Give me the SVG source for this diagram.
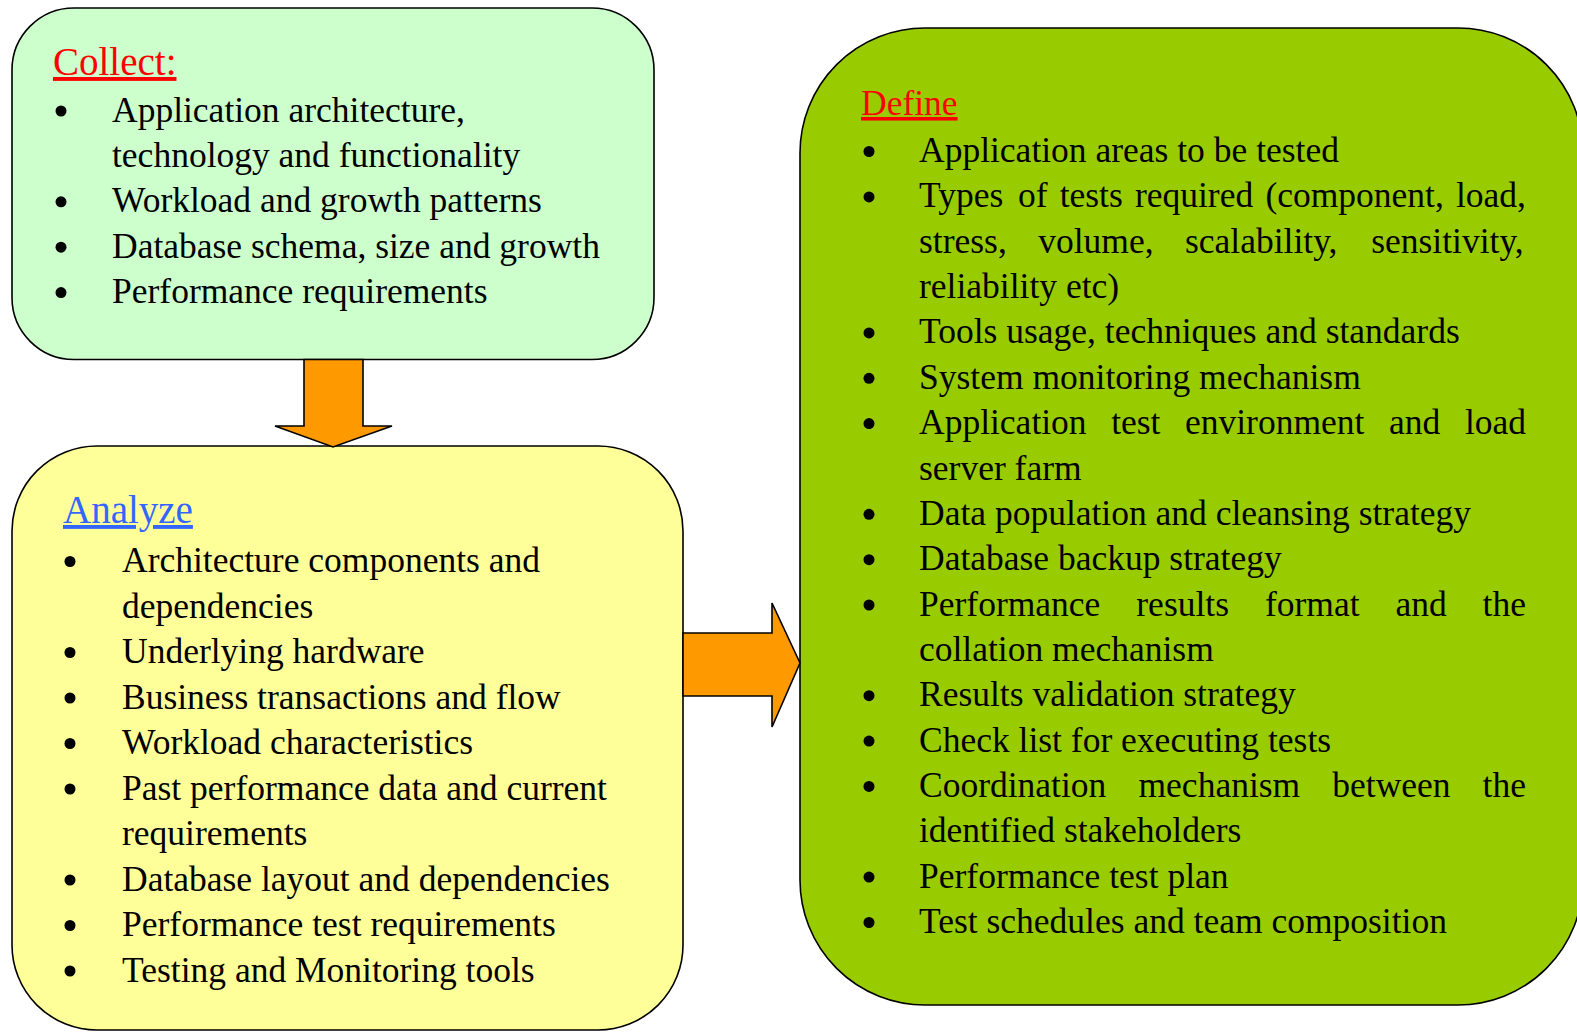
<svg xmlns="http://www.w3.org/2000/svg" width="1577" height="1032" viewBox="0 0 1577 1032">
  <style>
    .box { stroke: #000; stroke-width: 1.6; }
    .arrow { fill: #FF9900; stroke: #000; stroke-width: 1.6; stroke-linejoin: miter; }
    text { font-family: "Liberation Serif", "Times New Roman", serif; fill: #000; }
    .body { font-size: 35.5px; }
    .head { text-decoration: underline; }
    .bullet { fill: #000; }
  </style>
  <rect width="1577" height="1032" fill="#FFFFFF"/>

  <!-- Collect -->
  <g id="collect">
    <rect class="box" x="12" y="8" width="642" height="351.5" rx="62" ry="62" fill="#CCFFCC"/>
    <text class="head" x="53" y="75" font-size="39" style="fill:#FF0000">Collect:</text>
    <g class="bullet">
      <circle cx="61" cy="111" r="5.5"/>
      <circle cx="61" cy="201.8" r="5.5"/>
      <circle cx="61" cy="247.2" r="5.5"/>
      <circle cx="61" cy="292.6" r="5.5"/>
    </g>
    <text class="body" x="112">
      <tspan x="112" y="121.5">Application architecture,</tspan>
      <tspan x="112" y="166.9">technology and functionality</tspan>
      <tspan x="112" y="212.3">Workload and growth patterns</tspan>
      <tspan x="112" y="257.7">Database schema, size and growth</tspan>
      <tspan x="112" y="303.1">Performance requirements</tspan>
    </text>
  </g>

  <!-- Analyze -->
  <g id="analyze">
    <rect class="box" x="12" y="446" width="671" height="584" rx="85" ry="85" fill="#FFFF99"/>
    <text class="head" x="63" y="523" font-size="39" style="fill:#3366FF">Analyze</text>
    <g class="bullet">
      <circle cx="70" cy="561.5" r="5.5"/>
      <circle cx="70" cy="652.5" r="5.5"/>
      <circle cx="70" cy="698" r="5.5"/>
      <circle cx="70" cy="743.5" r="5.5"/>
      <circle cx="70" cy="789" r="5.5"/>
      <circle cx="70" cy="880" r="5.5"/>
      <circle cx="70" cy="925.5" r="5.5"/>
      <circle cx="70" cy="971" r="5.5"/>
    </g>
    <text class="body">
      <tspan x="122" y="572">Architecture components and</tspan>
      <tspan x="122" y="617.5">dependencies</tspan>
      <tspan x="122" y="663">Underlying hardware</tspan>
      <tspan x="122" y="708.5">Business transactions and flow</tspan>
      <tspan x="122" y="754">Workload characteristics</tspan>
      <tspan x="122" y="799.5">Past performance data and current</tspan>
      <tspan x="122" y="845">requirements</tspan>
      <tspan x="122" y="890.5">Database layout and dependencies</tspan>
      <tspan x="122" y="936">Performance test requirements</tspan>
      <tspan x="122" y="981.5">Testing and Monitoring tools</tspan>
    </text>
  </g>

  <!-- Define -->
  <g id="define">
    <rect class="box" x="800" y="28" width="783" height="977" rx="125" ry="125" fill="#99CC00"/>
    <text class="head" x="861" y="115" font-size="35.5" style="fill:#FF0000">Define</text>
    <g class="bullet">
      <circle cx="869" cy="151.5" r="5.5"/>
      <circle cx="869" cy="196.9" r="5.5"/>
      <circle cx="869" cy="332.9" r="5.5"/>
      <circle cx="869" cy="378.3" r="5.5"/>
      <circle cx="869" cy="423.6" r="5.5"/>
      <circle cx="869" cy="514.3" r="5.5"/>
      <circle cx="869" cy="559.7" r="5.5"/>
      <circle cx="869" cy="605" r="5.5"/>
      <circle cx="869" cy="695.7" r="5.5"/>
      <circle cx="869" cy="741.1" r="5.5"/>
      <circle cx="869" cy="786.4" r="5.5"/>
      <circle cx="869" cy="877.1" r="5.5"/>
      <circle cx="869" cy="922.5" r="5.5"/>
    </g>
    <text class="body">
      <tspan x="919" y="162">Application areas to be tested</tspan>
      <!-- justified lines: one tspan per word -->
      <tspan x="919" y="207.4">Types</tspan><tspan x="1017.9" y="207.4">of</tspan><tspan x="1059.7" y="207.4">tests</tspan><tspan x="1134.9" y="207.4">required</tspan><tspan x="1265.4" y="207.4">(component,</tspan><tspan x="1456" y="207.4">load,</tspan>
      <tspan x="919" y="252.7">stress,</tspan><tspan x="1038.2" y="252.7">volume,</tspan><tspan x="1185" y="252.7">scalability,</tspan><tspan x="1371.2" y="252.7">sensitivity,</tspan>
      <tspan x="919" y="298.1">reliability etc)</tspan>
      <tspan x="919" y="343.4">Tools usage, techniques and standards</tspan>
      <tspan x="919" y="388.8">System monitoring mechanism</tspan>
      <tspan x="919" y="434.1">Application</tspan><tspan x="1111.2" y="434.1">test</tspan><tspan x="1185" y="434.1">environment</tspan><tspan x="1389.1" y="434.1">and</tspan><tspan x="1465" y="434.1">load</tspan>
      <tspan x="919" y="479.5">server farm</tspan>
      <tspan x="919" y="524.8">Data population and cleansing strategy</tspan>
      <tspan x="919" y="570.2">Database backup strategy</tspan>
      <tspan x="919" y="615.5">Performance</tspan><tspan x="1136.3" y="615.5">results</tspan><tspan x="1264.9" y="615.5">format</tspan><tspan x="1395.4" y="615.5">and</tspan><tspan x="1482.6" y="615.5">the</tspan>
      <tspan x="919" y="660.9">collation mechanism</tspan>
      <tspan x="919" y="706.2">Results validation strategy</tspan>
      <tspan x="919" y="751.6">Check list for executing tests</tspan>
      <tspan x="919" y="796.9">Coordination</tspan><tspan x="1138.5" y="796.9">mechanism</tspan><tspan x="1332.3" y="796.9">between</tspan><tspan x="1482.6" y="796.9">the</tspan>
      <tspan x="919" y="842.3">identified stakeholders</tspan>
      <tspan x="919" y="887.6">Performance test plan</tspan>
      <tspan x="919" y="933">Test schedules and team composition</tspan>
    </text>
  </g>

  <!-- Connectors: block arrows -->
  <g id="connectors">
    <polygon class="arrow" points="304,359.5 363,359.5 363,426 392,426 333,447 275,426 304,426"/>
    <polygon class="arrow" points="683,633 772,633 772,603 800,663 772,727 772,696 683,696"/>
  </g>
</svg>
